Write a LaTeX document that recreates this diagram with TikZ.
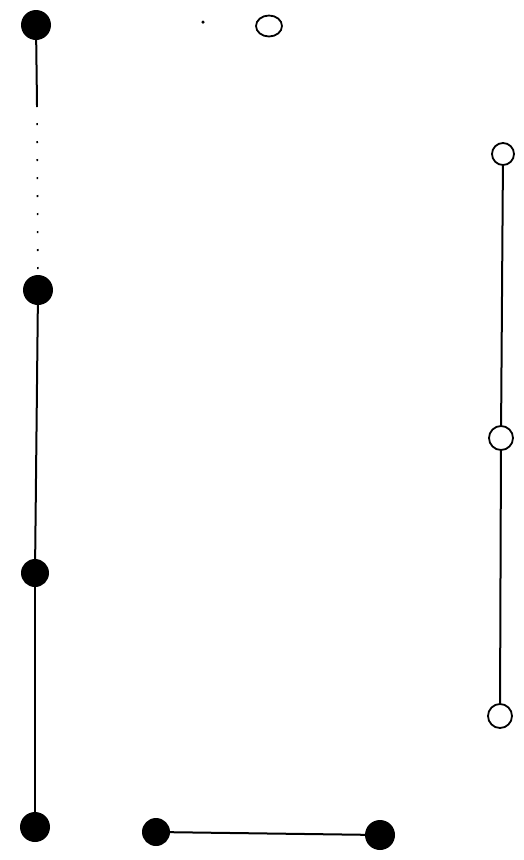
\documentclass[tikz,border=0pt]{standalone}
\usetikzlibrary{shapes.geometric}
\begin{document}
\begin{tikzpicture}[x=1pt,y=-1pt,
  filled/.style={circle,fill=black,inner sep=0pt,minimum size=30pt},
  hollow/.style={circle,draw=black,line width=1.8pt,inner sep=0pt,minimum size=22pt},
  conn/.style={line width=2pt}]
\useasboundingbox (0,0) rectangle (523,860);
\node[filled] (l1) at (36,25) {};
\node[filled] (l2) at (38,290) {};
\node[filled,minimum size=28pt] (l3) at (35,573) {};
\node[filled] (l4) at (35,827) {};
\node[filled,minimum size=28pt] (b1) at (156,832) {};
\node[filled] (b2) at (380,835) {};
\node[circle,fill=black,inner sep=0pt,minimum size=3.5pt] (dot) at (203,22) {};
\node[ellipse,draw=black,line width=1.8pt,inner sep=0pt,minimum width=26pt,minimum height=21pt] (t1) at (269,26) {};
\node[hollow] (r1) at (503,154) {};
\node[hollow,minimum size=24pt] (r2) at (501,438) {};
\node[hollow,minimum size=24pt] (r3) at (500,716) {};
\coordinate (lm) at (37,105);
\draw[conn] (l1) -- (lm);
\draw[line width=1.6pt,dash pattern=on 2pt off 16pt] (lm) -- (l2);
\draw[conn] (l2) -- (l3);
\draw[conn] (l3) -- (l4);
\draw[conn] (b1) -- (b2);
\draw[conn] (r1) -- (r2);
\draw[conn] (r2) -- (r3);
\end{tikzpicture}
\end{document}
